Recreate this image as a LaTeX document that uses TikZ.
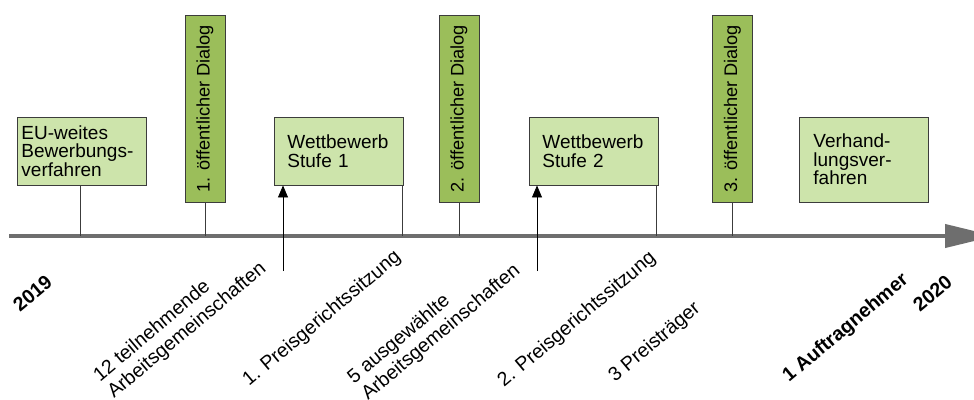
\documentclass[tikz,border=0pt]{standalone}
\usepackage{fontspec}
\setmainfont{Liberation Sans}
\usetikzlibrary{arrows.meta}
\definecolor{lightgrn}{RGB}{205,228,171}
\definecolor{darkgrn}{RGB}{155,190,90}
\definecolor{axisgray}{RGB}{110,110,110}
\definecolor{edgegray}{RGB}{60,60,60}
\begin{document}
\begin{tikzpicture}[x=1pt,y=-1pt,
  every node/.style={font=\fontsize{19}{18.5}\selectfont, text=black},
  phase/.style={draw=edgegray, line width=0.9pt, fill=lightgrn, align=left,
    minimum height=68pt, anchor=west, inner ysep=0pt},
  dialog/.style={draw=edgegray, line width=0.9pt, fill=darkgrn, rotate=90,
    minimum width=187pt, minimum height=40pt, inner sep=0pt,
    font=\fontsize{18.2}{18.5}\selectfont},
  tick/.style={draw=edgegray, line width=0.8pt},
  uparrow/.style={draw=black, line width=0.8pt, -{Triangle[length=12pt,width=10pt]}},
  mlabel/.style={rotate=40, anchor=base west, inner sep=0pt, align=left,
    font=\fontsize{19.6}{22}\selectfont},
  mbold/.style={mlabel, font=\bfseries\fontsize{19.6}{22}\selectfont}]
\useasboundingbox (0,0) rectangle (974,399);
\fill[white] (0,0) rectangle (974,399);

% axis
\coordinate (axL) at (9,236);
\coordinate (axR) at (995,236);
\draw[axisgray, line width=4pt, -{Triangle[length=50pt,width=23pt]}] (axL) -- (axR);

% phase boxes
\node[phase, text width=121pt, inner xsep=4pt] (eu) at (17,151) {EU-weites\\Bewerbungs-\\verfahren};
\node[phase, text width=103pt, inner xsep=13pt] (w1) at (274,151) {Wettbewerb\\Stufe 1};
\node[phase, text width=103pt, inner xsep=13pt] (w2) at (529,151) {Wettbewerb\\Stufe 2};
\node[phase, text width=101pt, inner xsep=14pt, minimum height=85pt] (vv) at (799,159.5) {Verhand-\\lungsver-\\fahren};

% dialog boxes
\node[dialog] (d1) at (205,108.5) {1. öffentlicher Dialog};
\node[dialog] (d2) at (459,108.5) {2. öffentlicher Dialog};
\node[dialog] (d3) at (732.5,108.5) {3. öffentlicher Dialog};

% ticks
\coordinate (t0) at ([xshift=-1.5pt]eu.south);
\coordinate (t1) at ([xshift=-2pt]w1.south east);
\coordinate (t2) at ([xshift=-2.5pt]w2.south east);
\draw[tick] (t0) -- (t0 |- axL);
\draw[tick] (d1.west) -- (d1.west |- axL);
\draw[tick] (t1) -- (t1 |- axL);
\draw[tick] (d2.west) -- (d2.west |- axL);
\draw[tick] (t2) -- (t2 |- axL);
\draw[tick] (d3.west) -- (d3.west |- axL);

% arrows from below
\coordinate (a1) at (283,271);
\coordinate (a2) at (537,271);
\draw[uparrow] (a1) -- (a1 |- w1.south);
\draw[uparrow] (a2) -- (a2 |- w2.south);

% labels
\node[mbold] (y19) at (20,313) {2019};
\node[mlabel] (l1) at (114,399) {12 teilnehmende\\Arbeitsgemeinschaften};
\node[mlabel] (l2) at (249,387) {1. Preisgerichtssitzung};
\node[mlabel] (l3) at (368,401) {5 ausgewählte\\Arbeitsgemeinschaften};
\node[mlabel] (l4) at (504,388) {2. Preisgerichtssitzung};
\node[mlabel] (l5) at (615,383) {3 Preisträger};
\node[mbold] (l6) at (789,383) {1 Auftragnehmer};
\node[mbold] (y20) at (920,313) {2020};
\end{tikzpicture}
\end{document}
